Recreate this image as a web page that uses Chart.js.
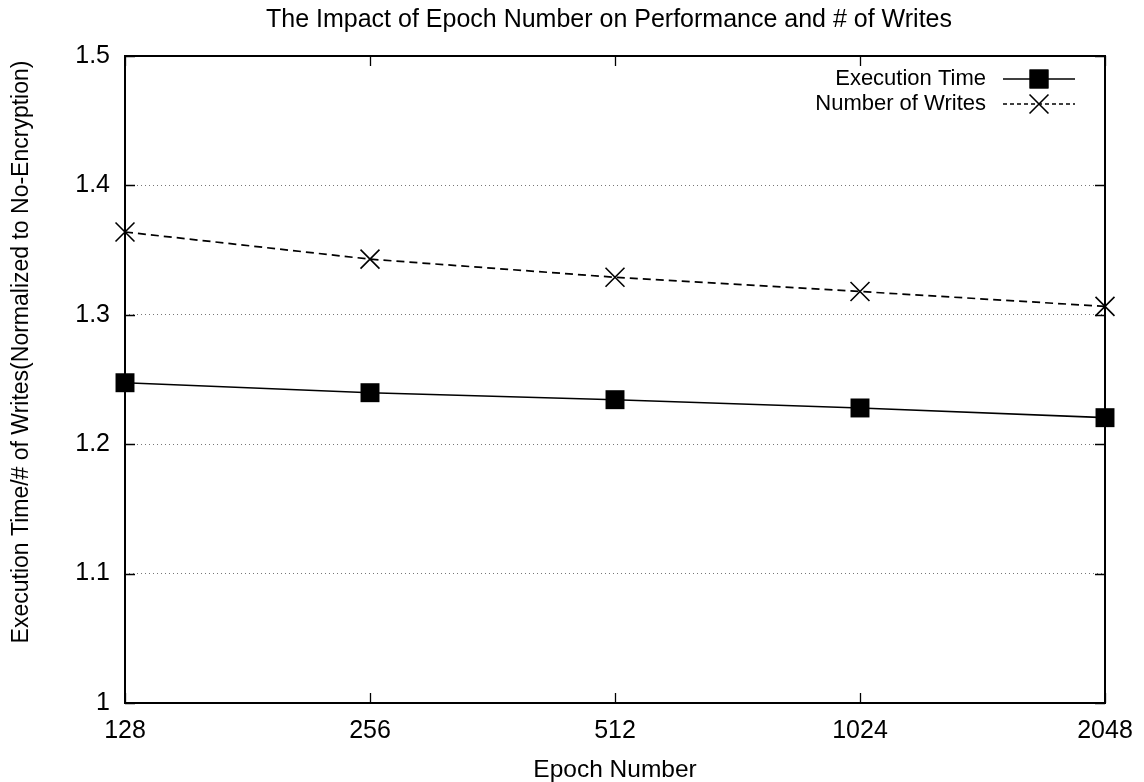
<!DOCTYPE html>
<html>
<head>
<meta charset="utf-8">
<script src="https://cdn.jsdelivr.net/npm/chart.js@4.4.1/dist/chart.umd.min.js"></script>
<style>
  html, body { margin: 0; padding: 0; background: #fff; }
  #wrap { width: 1144px; height: 782px; }
</style>
</head>
<body>
<div id="wrap"><canvas id="c" width="1144" height="782"></canvas></div>
<script>
// Epoch sizes on the x axis
const epochLabels = ['128', '256', '512', '1024', '2048'];
// Normalized execution time (relative to no encryption)
const executionTime = [1.2475, 1.2398, 1.2344, 1.2280, 1.2205];
// Normalized number of writes (relative to no encryption)
const numberOfWrites = [1.3640, 1.3430, 1.3290, 1.3180, 1.3065];
// Y axis tick values
const yTicks = [1, 1.1, 1.2, 1.3, 1.4, 1.5];

const chartTitle = 'The Impact of Epoch Number on Performance and # of Writes';
const yTitle = 'Execution Time/# of Writes(Normalized to No-Encryption)';

const FONT = 'Liberation Sans, Arial, Helvetica, sans-serif';

// Draws the box around the plot and the inward tick marks on all four sides
const framePlugin = {
  id: 'frame',
  beforeDatasetsDraw(chart) {
    const { ctx, chartArea: a, scales } = chart;
    const len = 10;
    ctx.save();
    ctx.strokeStyle = '#000';
    ctx.lineWidth = 1.3;
    scales.x.ticks.forEach((t, i) => {
      const px = Math.round(scales.x.getPixelForTick(i)) + 0.5;
      ctx.beginPath();
      ctx.moveTo(px, a.bottom); ctx.lineTo(px, a.bottom - len);
      ctx.moveTo(px, a.top); ctx.lineTo(px, a.top + len);
      ctx.stroke();
    });
    scales.y.ticks.forEach((t, i) => {
      const py = Math.round(scales.y.getPixelForTick(i)) + 0.5;
      ctx.beginPath();
      ctx.moveTo(a.left, py); ctx.lineTo(a.left + len, py);
      ctx.moveTo(a.right, py); ctx.lineTo(a.right - len, py);
      ctx.stroke();
    });
    ctx.lineWidth = 2;
    ctx.strokeRect(a.left, a.top, a.right - a.left, a.bottom - a.top);
    ctx.restore();
  }
};

// Chart title above the plot and the rotated y axis title
const titlesPlugin = {
  id: 'titles',
  afterDraw(chart) {
    const { ctx } = chart;
    ctx.save();
    ctx.fillStyle = '#000';
    ctx.textAlign = 'center';
    ctx.textBaseline = 'middle';
    ctx.font = '25px ' + FONT;
    ctx.fillText(chartTitle, 609, 20);
    ctx.translate(22, 352);
    ctx.rotate(-Math.PI / 2);
    ctx.font = '23px ' + FONT;
    ctx.fillText(yTitle, 0, 0);
    ctx.restore();
  }
};

// Key in the upper right corner: label, then a line sample with its marker
const keyPlugin = {
  id: 'key',
  afterDraw(chart) {
    const { ctx } = chart;
    const textRight = 986, x0 = 1003, x1 = 1075, xm = 1039;
    const rows = [{ y: 79, ds: 0 }, { y: 104, ds: 1 }];
    ctx.save();
    ctx.font = '22px ' + FONT;
    ctx.fillStyle = '#000';
    ctx.textAlign = 'right';
    ctx.textBaseline = 'middle';
    rows.forEach(r => {
      const ds = chart.data.datasets[r.ds];
      ctx.fillText(ds.label, textRight, r.y);
      ctx.strokeStyle = '#000';
      ctx.lineWidth = 1.6;
      ctx.setLineDash(r.ds === 1 ? [4, 3] : []);
      ctx.beginPath(); ctx.moveTo(x0, r.y); ctx.lineTo(x1, r.y); ctx.stroke();
      ctx.setLineDash([]);
      Chart.helpers.drawPoint(ctx, {
        pointStyle: ds.pointStyle, radius: ds.pointRadius, borderWidth: ds.pointBorderWidth
      }, xm, r.y);
      if (ds.pointStyle === 'rect') ctx.fill();
    });
    ctx.restore();
  }
};

new Chart(document.getElementById('c'), {
  type: 'line',
  data: {
    labels: epochLabels,
    datasets: [
      {
        label: 'Execution Time',
        data: executionTime,
        borderColor: '#000',
        backgroundColor: '#000',
        borderWidth: 1.6,
        pointStyle: 'rect',
        pointRadius: 13.4,
        pointHoverRadius: 13.4,
        pointBorderWidth: 0,
        pointBackgroundColor: '#000',
        pointBorderColor: '#000',
        tension: 0,
        clip: false
      },
      {
        label: 'Number of Writes',
        data: numberOfWrites,
        borderColor: '#000',
        backgroundColor: '#000',
        borderWidth: 1.7,
        borderDash: [8, 5],
        pointStyle: 'crossRot',
        pointRadius: 13.4,
        pointHoverRadius: 13.4,
        pointBorderWidth: 1.6,
        pointBorderColor: '#000',
        tension: 0,
        clip: false
      }
    ]
  },
  options: {
    responsive: false,
    animation: false,
    devicePixelRatio: 1,
    layout: { padding: { left: 0, right: 39, top: 56, bottom: 0 } },
    plugins: {
      legend: { display: false },
      tooltip: { enabled: false },
      title: { display: false }
    },
    scales: {
      x: {
        type: 'category',
        offset: false,
        grid: { display: false, drawTicks: false },
        border: { display: false },
        ticks: {
          color: '#000',
          font: { family: FONT, size: 25 },
          padding: 13,
          maxRotation: 0,
          autoSkip: false
        },
        title: {
          display: true,
          text: 'Epoch Number',
          color: '#000',
          font: { family: FONT, size: 24.5, lineHeight: 1.0 },
          padding: { top: 0, bottom: 0 }
        },
        afterFit(s) { s.height = 79; s.paddingLeft = 0; s.paddingRight = 0; }
      },
      y: {
        min: 1,
        max: 1.5,
        afterBuildTicks(s) { s.ticks = yTicks.map(v => ({ value: v })); },
        grid: {
          drawTicks: false,
          color: ctx => (ctx.tick && (ctx.tick.value === 1 || ctx.tick.value === 1.5)) ? 'rgba(0,0,0,0)' : '#777',
          lineWidth: 1
        },
        border: { display: false, dash: [1, 3] },
        ticks: {
          color: '#000',
          font: { family: FONT, size: 25 },
          padding: 15,
          callback: v => String(+Number(v).toFixed(1))
        },
        title: { display: false },
        afterFit(s) { s.width = 125; }
      }
    }
  },
  plugins: [framePlugin, titlesPlugin, keyPlugin]
});
</script>
</body>
</html>
